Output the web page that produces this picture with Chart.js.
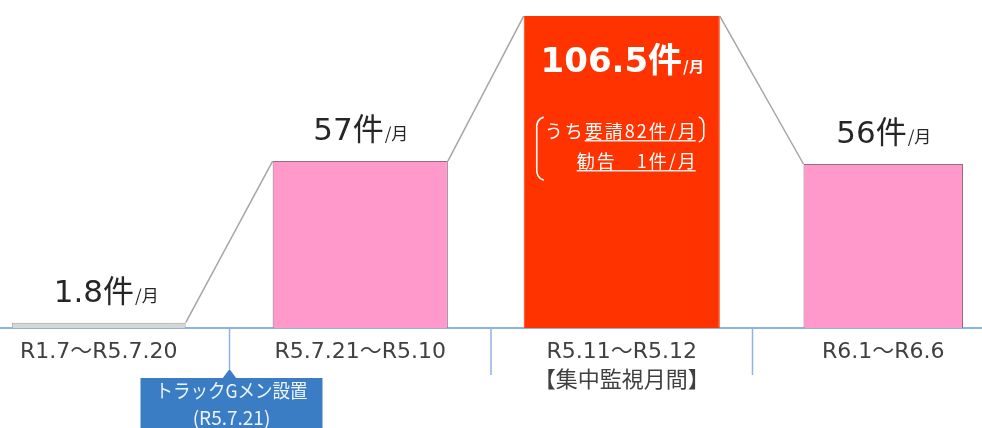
<!DOCTYPE html>
<html lang="ja">
<head>
<meta charset="utf-8">
<script src="https://cdn.jsdelivr.net/npm/chart.js@4"></script>
<style>
  html, body { margin: 0; padding: 0; background: #fff; }
  #wrap { position: relative; width: 982px; height: 428px; overflow: hidden; }
  #box { position: absolute; left: -32px; top: 0; width: 1046px; height: 428px; }
</style>
</head>
<body>
<div id="wrap"><div id="box"><canvas id="chart"></canvas></div></div>
<script>
  /* ── data ── */
  const PERIODS = [['R1.7～R5.7.20'], ['R5.7.21～R5.10'], ['R5.11～R5.12', '【集中監視月間】'], ['R6.1～R6.6']];
  const MONTHLY = [1.8, 57, 106.5, 56];
  const FILLS = ['#d6d6d6', '#ff99cc', '#ff3300', '#ff99cc'];
  const EDGES = ['#a0a0a0', '#8f6f80', '#ff3300', '#8f6f80'];
  const BAR_SHARE = [0.665, 0.67, 0.75, 0.61];   // share of the category each bar fills
  const UNIT = '件';
  const PER = '/月';
  const BREAKDOWN = [['うち', '要請82件/月'], ['', '勧告　1件/月']];
  const CALLOUT = ['トラックGメン設置', '(R5.7.21)'];
  const CALLOUT_AT = 0;   // callout sits on the divider after this category
  const Y_MAX = 112;

  const FONT_LAT = '"DejaVu Sans", "Noto Sans CJK JP", sans-serif';
  const FONT_JP = '"Noto Sans CJK JP", sans-serif';

  /* ── overlay: connectors, dividers, labels, callout ── */
  const overlay = {
    id: 'overlay',
    afterDatasetsDraw(chart) {
      const { ctx, chartArea } = chart;
      // one dataset per bar, so pick bar i out of dataset i
      const bars = MONTHLY.map((v, i) => chart.getDatasetMeta(i).data[i]);
      const xs = chart.scales.x;
      const base = chartArea.bottom;
      const mid = i => (xs.getPixelForValue(i) + xs.getPixelForValue(i + 1)) / 2;
      ctx.save();

      // grey connector lines between bar tops
      ctx.strokeStyle = '#a6a6a6';
      ctx.lineWidth = 1.5;
      for (let i = 0; i < bars.length - 1; i++) {
        const a = bars[i], b = bars[i + 1];
        ctx.beginPath();
        ctx.moveTo(a.x + a.width / 2, a.y);
        ctx.lineTo(b.x - b.width / 2, b.y);
        ctx.stroke();
      }

      // category dividers under the axis
      ctx.strokeStyle = '#8db3e2';
      for (let i = 0; i < bars.length - 1; i++) {
        const dx = mid(i);
        ctx.beginPath();
        ctx.moveTo(dx, base);
        ctx.lineTo(dx, i === CALLOUT_AT ? base + 41 : base + 47);
        ctx.stroke();
      }

      // value labels
      const peak = MONTHLY.indexOf(Math.max(...MONTHLY));
      ctx.textAlign = 'left';
      ctx.textBaseline = 'alphabetic';
      bars.forEach((bar, i) => {
        const inside = i === peak;
        const main = MONTHLY[i] + UNIT;
        const bigF = inside ? `bold 34px ${FONT_LAT}` : `31px ${FONT_LAT}`;
        const smallF = inside ? `bold 15px ${FONT_JP}` : `17px ${FONT_JP}`;
        ctx.font = bigF;
        const w1 = ctx.measureText(main).width;
        ctx.font = smallF;
        const w2 = ctx.measureText(PER).width;
        const x0 = bar.x - (w1 + w2) / 2 + (i === 0 ? 7 : 0);
        const y = inside ? bar.y + 56 : bar.y - 21;
        ctx.fillStyle = inside ? '#ffffff' : '#262626';
        ctx.font = bigF;
        ctx.fillText(main, x0, y);
        ctx.font = smallF;
        ctx.fillText(PER, x0 + w1 + 1, y);
      });

      // breakdown inside the peak bar
      const pb = bars[peak];
      ctx.fillStyle = '#ffffff';
      ctx.font = `18px ${FONT_JP}`;
      ctx.letterSpacing = '2px';
      ctx.textAlign = 'right';
      const xr = pb.x + 76;
      BREAKDOWN.forEach(([lead, body], k) => {
        const y = pb.y + 122 + k * 30;
        ctx.fillText(body, xr, y);
        const w = ctx.measureText(body).width;
        ctx.fillRect(xr - w, y + 2, w - 2, 1.3);
        if (lead) ctx.fillText(lead, xr - w, y);
      });
      ctx.letterSpacing = '0px';

      // brackets
      ctx.strokeStyle = '#ffffff';
      ctx.lineWidth = 1.6;
      ctx.beginPath();
      ctx.moveTo(pb.x - 78, pb.y + 101);
      ctx.quadraticCurveTo(pb.x - 86, pb.y + 103, pb.x - 85, pb.y + 114);
      ctx.lineTo(pb.x - 85, pb.y + 151);
      ctx.quadraticCurveTo(pb.x - 86, pb.y + 162, pb.x - 78, pb.y + 164);
      ctx.stroke();
      ctx.beginPath();
      ctx.moveTo(pb.x + 77, pb.y + 101);
      ctx.quadraticCurveTo(pb.x + 83, pb.y + 103, pb.x + 82, pb.y + 112);
      ctx.lineTo(pb.x + 82, pb.y + 116);
      ctx.quadraticCurveTo(pb.x + 83, pb.y + 124, pb.x + 77, pb.y + 126);
      ctx.stroke();

      // callout box
      const cx = mid(CALLOUT_AT);
      const top = base + 50;
      ctx.fillStyle = '#3b7dc4';
      ctx.fillRect(cx - 89, top, 182, 60);
      ctx.beginPath();
      ctx.moveTo(cx - 7, top + 0.5);
      ctx.lineTo(cx, top - 9);
      ctx.lineTo(cx + 7, top + 0.5);
      ctx.closePath();
      ctx.fill();
      ctx.fillStyle = '#eef4fb';
      ctx.font = `19px ${FONT_JP}`;
      ctx.textAlign = 'center';
      ctx.textBaseline = 'middle';
      ctx.fillText(CALLOUT[0], cx + 2, top + 13, 152);
      ctx.fillText(CALLOUT[1], cx + 2, top + 40);

      ctx.restore();
    }
  };

  /* ── chart ── */
  const datasets = MONTHLY.map((v, i) => ({
    data: MONTHLY.map((w, j) => (j === i ? w : null)),
    backgroundColor: FILLS[i],
    borderColor: EDGES[i],
    borderWidth: 1,
    barPercentage: BAR_SHARE[i],
    categoryPercentage: 1,
    grouped: false
  }));

  new Chart(document.getElementById('chart').getContext('2d'), {
    type: 'bar',
    data: { labels: PERIODS, datasets },
    options: {
      responsive: true,
      maintainAspectRatio: false,
      animation: false,
      layout: { padding: 0 },
      plugins: {
        legend: { display: false },
        tooltip: { enabled: false }
      },
      scales: {
        x: {
          grid: { display: false, drawTicks: false },
          border: { color: '#8db3e2', width: 2 },
          ticks: {
            color: '#404040',
            padding: 10,
            maxRotation: 0,
            autoSkip: false,
            font: { family: FONT_LAT, size: 22, lineHeight: 1.3 }
          },
          afterFit(scale) { scale.height = 100; }
        },
        y: { display: false, min: 0, max: Y_MAX }
      }
    },
    plugins: [overlay]
  });
</script>
</body>
</html>
